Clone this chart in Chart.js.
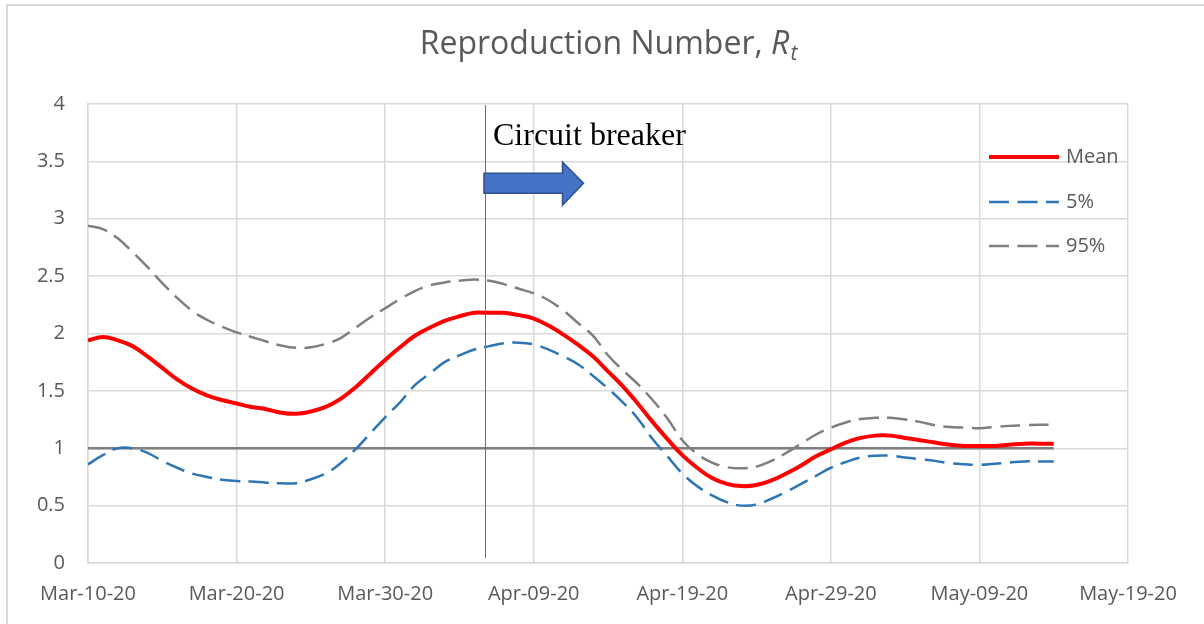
<!DOCTYPE html>
<html><head><meta charset="utf-8">
<script src="https://cdn.jsdelivr.net/npm/chart.js@4.4.1/dist/chart.umd.min.js"></script>
<style>html,body{margin:0;padding:0;background:#fff;overflow:hidden}#wrap{width:1204px;height:624px;position:relative}</style>
</head><body><div id="wrap"><canvas id="c" width="1204" height="624"></canvas></div>
<script>
// Day offsets from Mar-10-20
const days = [0,1,2,3,4,5,6,7,8,9,10,11,12,13,14,15,16,17,18,19,20,21,22,23,24,25,26,27,28,29,30,31,32,33,34,35,36,37,38,39,40,41,42,43,44,45,46,47,48,49,50,51,52,53,54,55,56,57,58,59,60,61,62,63,64,65];
const meanValues = [1.94,1.97,1.94,1.89,1.80,1.70,1.60,1.52,1.46,1.42,1.39,1.36,1.34,1.31,1.30,1.32,1.36,1.43,1.53,1.65,1.77,1.88,1.98,2.05,2.11,2.15,2.18,2.18,2.18,2.16,2.13,2.07,1.99,1.90,1.80,1.67,1.54,1.39,1.23,1.08,0.94,0.83,0.74,0.69,0.67,0.68,0.72,0.78,0.85,0.93,0.99,1.05,1.09,1.11,1.11,1.09,1.07,1.05,1.03,1.02,1.02,1.02,1.03,1.04,1.04,1.04];
const p5Values = [0.86,0.94,1.00,1.00,0.96,0.89,0.83,0.78,0.75,0.725,0.715,0.71,0.70,0.695,0.695,0.73,0.78,0.87,0.99,1.13,1.27,1.40,1.55,1.65,1.75,1.81,1.86,1.89,1.915,1.92,1.905,1.86,1.80,1.73,1.63,1.52,1.40,1.26,1.08,0.93,0.78,0.67,0.59,0.53,0.50,0.51,0.56,0.62,0.69,0.76,0.83,0.88,0.92,0.935,0.935,0.92,0.905,0.89,0.87,0.86,0.855,0.865,0.875,0.885,0.885,0.885];
const p95Values = [2.94,2.91,2.83,2.71,2.58,2.44,2.31,2.20,2.12,2.06,2.01,1.97,1.93,1.895,1.875,1.88,1.91,1.96,2.05,2.14,2.22,2.30,2.37,2.42,2.445,2.46,2.47,2.46,2.43,2.39,2.35,2.29,2.20,2.09,1.98,1.81,1.68,1.56,1.42,1.26,1.07,0.95,0.875,0.835,0.825,0.84,0.89,0.96,1.04,1.12,1.18,1.225,1.255,1.265,1.265,1.25,1.23,1.20,1.185,1.18,1.175,1.185,1.195,1.20,1.205,1.205];
const thresholdDays = [0, 65];
const thresholdValues = [1, 1];
const xTickLabels = ['Mar-10-20','Mar-20-20','Mar-30-20','Apr-09-20','Apr-19-20','Apr-29-20','May-09-20','May-19-20'];
const yTickLabels = ['0','0.5','1','1.5','2','2.5','3','3.5','4'];
const seriesNames = ['Mean','5%','95%'];
const circuitBreakerDay = 26.75;
const annotationText = 'Circuit breaker';

const FONT = "'Open Sans', sans-serif";
const TXT = '#595959';
const DASH = [20, 8.5];
const styles = [
  {color:'#FF0000', width:4, dash:[]},
  {color:'#2E75B6', width:2.5, dash:DASH},
  {color:'#7F7F7F', width:2.5, dash:DASH}
];

function pts(xs, ys){ return xs.map((x,i)=>({x:x, y:ys[i]})); }

const decor = {
  id:'decor',
  beforeDraw(chart){
    const ctx = chart.ctx;
    ctx.save();
    ctx.fillStyle='#fff'; ctx.fillRect(0,0,chart.width,chart.height);
    ctx.strokeStyle='#D9D9D9'; ctx.lineWidth=2;
    ctx.beginPath(); ctx.moveTo(7,624); ctx.lineTo(7,5); ctx.lineTo(1204,5); ctx.stroke();
    ctx.restore();
  },
  afterDraw(chart){
    const ctx = chart.ctx, ca = chart.chartArea;
    const xs = chart.scales.x, ys = chart.scales.y;
    ctx.save();
    // Title
    const cx = (ca.left+ca.right)/2, by = 54;
    const f1 = "32px " + FONT, f2 = "italic 32px " + FONT, f3 = "italic 21px " + FONT;
    const t1 = 'Reproduction Number, ';
    ctx.font=f1; const w1=ctx.measureText(t1).width;
    ctx.font=f2; const w2=ctx.measureText('R').width;
    ctx.font=f3; const w3=ctx.measureText('t').width;
    let sx = cx - (w1+w2+w3)/2;
    ctx.fillStyle=TXT; ctx.textBaseline='alphabetic'; ctx.textAlign='left';
    ctx.font=f1; ctx.fillText(t1, sx, by);
    ctx.font=f2; ctx.fillText('R', sx+w1, by);
    ctx.font=f3; ctx.fillText('t', sx+w1+w2+1, by+6);
    // Vertical line
    const lx = Math.round(xs.getPixelForValue(circuitBreakerDay)) + 0.5;
    ctx.strokeStyle='#4472C4'; ctx.lineWidth=1;
    ctx.beginPath(); ctx.moveTo(lx, ca.top+1); ctx.lineTo(lx, ca.bottom-5); ctx.stroke();
    // Arrow
    const ay = ys.getPixelForValue(3.31);
    const x0 = lx-1.5, xh = lx+77, xt = lx+98;
    ctx.beginPath();
    ctx.moveTo(x0, ay-10); ctx.lineTo(xh, ay-10); ctx.lineTo(xh, ay-21); ctx.lineTo(xt, ay);
    ctx.lineTo(xh, ay+22); ctx.lineTo(xh, ay+10); ctx.lineTo(x0, ay+10); ctx.closePath();
    ctx.fillStyle='#4472C4'; ctx.fill();
    ctx.strokeStyle='#2F528F'; ctx.lineWidth=1.5; ctx.stroke();
    // Annotation text
    ctx.fillStyle='#000'; ctx.font="32px 'Liberation Serif', 'Times New Roman', serif";
    ctx.textBaseline='alphabetic';
    ctx.fillText(annotationText, lx+7.5, ys.getPixelForValue(3.64));
    // Legend
    const lgX = ca.right-139, lgY = [157,202,246];
    seriesNames.forEach((n,i)=>{
      const s = styles[i];
      ctx.strokeStyle=s.color; ctx.lineWidth=s.width; ctx.setLineDash(s.dash); ctx.lineCap='butt';
      ctx.beginPath(); ctx.moveTo(lgX, lgY[i]); ctx.lineTo(lgX+70, lgY[i]); ctx.stroke();
      ctx.setLineDash([]);
      ctx.fillStyle=TXT; ctx.font="20px "+FONT; ctx.textBaseline='middle';
      ctx.fillText(n, lgX+77, lgY[i]);
    });
    ctx.restore();
  }
};

new Chart(document.getElementById('c'), {
  type:'line',
  data:{datasets:[
    {label:'threshold', data:pts(thresholdDays, thresholdValues), borderColor:'#7F7F7F', borderWidth:2.5, tension:0, order:4},
    {label:seriesNames[0], data:pts(days, meanValues), borderColor:styles[0].color, borderWidth:styles[0].width, tension:0.4, order:1},
    {label:seriesNames[1], data:pts(days, p5Values), borderColor:styles[1].color, borderWidth:styles[1].width, borderDash:styles[1].dash, tension:0.4, order:2},
    {label:seriesNames[2], data:pts(days, p95Values), borderColor:styles[2].color, borderWidth:styles[2].width, borderDash:styles[2].dash, tension:0.4, order:3}
  ]},
  options:{
    responsive:false, animation:false,
    layout:{padding:{top:104,left:0,right:76,bottom:0}},
    elements:{point:{radius:0}, line:{fill:false, borderCapStyle:'butt'}},
    plugins:{legend:{display:false}, title:{display:false}, tooltip:{enabled:false}},
    scales:{
      x:{type:'linear', min:0, max:70,
        ticks:{stepSize:10, autoSkip:false, maxRotation:0, padding:19, color:TXT, font:{family:FONT,size:20},
          callback:(v)=>xTickLabels[Math.round(v/10)]},
        grid:{color:'#D9D9D9', lineWidth:1.5, drawTicks:false},
        border:{color:'#D9D9D9', width:1.5},
        afterFit(s){ s.height = 61; }
      },
      y:{min:0, max:4,
        ticks:{stepSize:0.5, padding:23, color:TXT, font:{family:FONT,size:20},
          callback:(v)=>yTickLabels[Math.round(v*2)]},
        grid:{color:'#D9D9D9', lineWidth:1.5, drawTicks:false},
        border:{color:'#D9D9D9', width:1.5},
        afterFit(s){ s.width = 88; }
      }
    }
  },
  plugins:[decor]
});
</script></body></html>
